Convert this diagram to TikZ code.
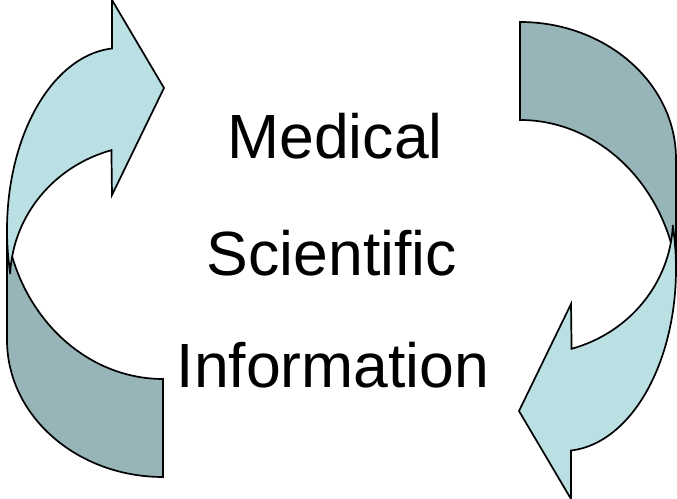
\documentclass[tikz,border=0pt]{standalone}
\usepackage{fontspec}
\setmainfont{Liberation Sans}
\usetikzlibrary{positioning}
\definecolor{arrowfront}{RGB}{187,224,228}
\definecolor{arrowback}{RGB}{151,180,184}

% one bent arrow: back band with flat end, front band with head
\newcommand{\bentarrow}{%
  \draw[back] (7,258) -- (7,158)
    arc[start angle=180,end angle=270,x radius=156pt,y radius=137pt]
    -- (163,119)
    arc[start angle=270,end angle=197.9,x radius=159pt,y radius=179pt]
    -- cycle;
  \draw[front] (112,449.5)
    arc[start angle=94.06,end angle=194,x radius=113pt,y radius=182pt]
    -- (10.2,225.1)
    arc[start angle=177,end angle=106,x radius=140pt,y radius=135pt]
    -- (112,303) -- (164,410) -- (112,498) -- cycle;
}

\begin{document}
\begin{tikzpicture}[x=1pt,y=1pt,
   back/.style={draw,line width=1.7pt,fill=arrowback},
   front/.style={draw,line width=1.7pt,fill=arrowfront},
   word/.style={font=\fontsize{62.5}{62.5}\selectfont,inner sep=0pt,anchor=base}]
  \useasboundingbox (0,0) rectangle (677,498);
  \bentarrow
  \begin{scope}[rotate around={180:(341.5,248.5)}]
    \bentarrow
  \end{scope}
  \node[word] (med) at (335,339) {Medical};
  \node[word] (sci) at (332,222) {Scientific};
  \node[word] (inf) at (333,110) {Information};
\end{tikzpicture}
\end{document}
